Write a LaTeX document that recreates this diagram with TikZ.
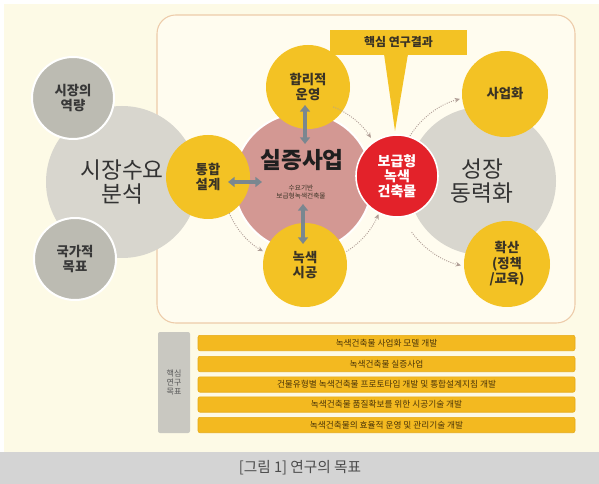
\documentclass[tikz,border=0pt]{standalone}
\usepackage{fontspec}
\setmainfont{Noto Sans CJK KR}
\usetikzlibrary{arrows.meta}
\definecolor{cream}{HTML}{FDFAE6}
\definecolor{framefill}{HTML}{FFFCEF}
\definecolor{frameline}{HTML}{EDCBA9}
\definecolor{biggrey}{HTML}{D8D6CE}
\definecolor{smallgrey}{HTML}{BCBBB2}
\definecolor{yel}{HTML}{F3C224}
\definecolor{pinkc}{HTML}{D39893}
\definecolor{redc}{HTML}{E3222A}
\definecolor{arrowc}{HTML}{7A8790}
\definecolor{barc}{HTML}{F3B920}
\definecolor{barline}{HTML}{E6A915}
\definecolor{labgrey}{HTML}{C9C8C1}
\definecolor{capband}{HTML}{D4D4D4}
\definecolor{txt}{HTML}{3A3325}
\definecolor{bartxt}{HTML}{4A3408}
\definecolor{flowc}{HTML}{B09E96}
\begin{document}
\begin{tikzpicture}[x=0.75pt,y=-0.75pt,
  disc/.style={circle, inner sep=0pt, minimum size=#1*1.5pt},
  ylab/.style={font=\bfseries\fontsize{10}{11.5}\selectfont, text=txt, align=center},
  glab/.style={font=\bfseries\fontsize{10}{11.5}\selectfont, text=black!78, align=center},
  biglab/.style={font=\fontsize{17}{17.5}\selectfont, text=black!80, align=center},
  dbl/.style={arrowc, line width=2.4pt, {Triangle[length=5pt,width=7.5pt]}-{Triangle[length=5pt,width=7.5pt]}},
  flow/.style={flowc, densely dotted, line width=0.7pt, -{Stealth[length=4pt,width=3.5pt]}},
  barbox/.style={rectangle, fill=barc, draw=barline, line width=0.4pt, rounded corners=1.5pt,
    minimum width=282.75pt, minimum height=11.6pt, inner sep=0pt,
    font=\fontsize{6.5}{7}\selectfont, text=bartxt}
]
\useasboundingbox (0,0) rectangle (599,484);
\fill[white] (0,0) rectangle (599,484);
\fill[cream] (4,4) rectangle (599,452);
\fill[capband] (0,452) rectangle (599,484);
\node[font=\fontsize{11}{13}\selectfont, text=black!70] (caption) at (300,468) {[그림 1] 연구의 목표};

% main frame
\node[draw=frameline, fill=framefill, line width=0.8pt, rounded corners=14pt,
  minimum width=313.5pt, minimum height=231pt, inner sep=0pt] (frame) at (366,169) {};

% left grey circles
\node[disc=76, fill=biggrey, biglab] (mkt) at (122,182) {시장수요\\분석};
\node[disc=41, fill=smallgrey, draw=white, line width=1.5pt, glab] (capa) at (73,98) {시장의\\역량};
\node[disc=41, fill=smallgrey, draw=white, line width=1.5pt, glab] (nat) at (75,259) {국가적\\목표};

% right grey circle
\node[disc=74, fill=biggrey, biglab] (grow) at (482,181) {성장\\동력화};

% pink circle
\node[disc=69, fill=pinkc, draw=white, line width=1.5pt] (pc) at (303,182) {};
\node[font=\bfseries\fontsize{17}{18}\selectfont, text=black!88] (pct) at (302,160) {실증사업};
\node[font=\fontsize{5}{6.2}\selectfont, text=txt, align=center] (pcs) at (301,192) {수요기반\\보급형녹색건축물};

% yellow circles
\node[disc=42, fill=yel, ylab] (tg) at (208,177) {통합\\설계};
\node[disc=42, fill=yel, ylab] (hr) at (308,87) {합리적\\운영};
\node[disc=42, fill=yel, ylab] (ns) at (305,265) {녹색\\시공};
\node[disc=43, fill=yel, ylab] (sa) at (505,94) {사업화};
\node[disc=43, fill=yel, ylab] (hw) at (507,264) {확산\\(정책\\/교육)};

% callout
\fill[yel] (384,54) -- (408,54) -- (395,131) -- cycle;
\node[fill=yel, minimum width=102.75pt, minimum height=18.75pt, inner sep=0pt,
  font=\bfseries\fontsize{9}{10}\selectfont, text=txt] (call) at (398.5,42.5) {핵심 연구결과};

% red circle
\node[disc=41, fill=redc, draw=white, line width=1.2pt,
  font=\bfseries\fontsize{10.5}{11.3}\selectfont, text=white, align=center] (bg) at (397,176) {보급형\\녹색\\건축물};

% double arrows
\coordinate (a1) at (228,182);
\coordinate (a2) at (262,182);
\coordinate (b1) at (305,105);
\coordinate (b2) at (305,144);
\coordinate (c1) at (303,204);
\coordinate (c2) at (303,244);
\draw[dbl] (a1) -- (a2);
\draw[dbl] (b1) -- (b2);
\draw[dbl] (c1) -- (c2);

% dotted flow arcs
\draw[flow] ([shift={(-68:81)}]pc.center) arc[start angle=-68, end angle=-33, radius=81];
\draw[flow] ([shift={(-203:80)}]pc.center) arc[start angle=-203, end angle=-240, radius=80];
\draw[flow] ([shift={(58:82)}]pc.center) arc[start angle=58, end angle=23, radius=82];
\draw[flow] ([shift={(-148:85)}]grow.center) arc[start angle=-148, end angle=-105, radius=85];
\draw[flow] ([shift={(144:87)}]grow.center) arc[start angle=144, end angle=104, radius=87];

% bottom goals
\node[rectangle, fill=labgrey, rounded corners=1.5pt, minimum width=24pt, minimum height=75.75pt,
  inner sep=0pt, font=\fontsize{6}{6.6}\selectfont, text=black!65, align=center] (goal) at (174,382.5) {핵심\\연구\\목표};
\node[barbox] (g1) at (386.5,343) {녹색건축물 사업화 모델 개발};
\node[barbox] (g2) at (386.5,364) {녹색건축물 실증사업};
\node[barbox] (g3) at (386.5,384.5) {건물유형별 녹색건축물 프로토타입 개발 및 통합설계지침 개발};
\node[barbox] (g4) at (386.5,404.5) {녹색건축물 품질확보를 위한 시공기술 개발};
\node[barbox] (g5) at (386.5,425) {녹색건축물의 효율적 운영 및 관리기술 개발};
\end{tikzpicture}
\end{document}
